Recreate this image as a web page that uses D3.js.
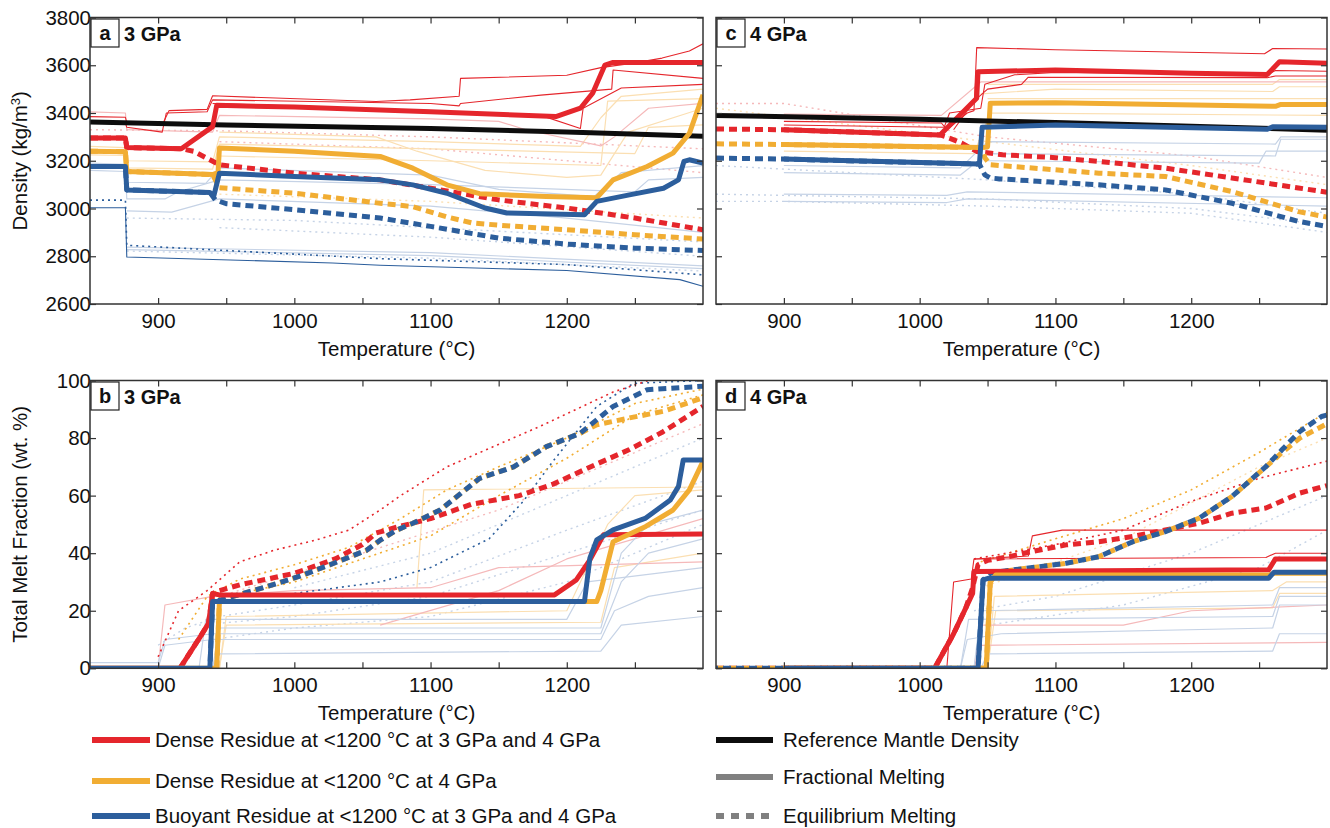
<!DOCTYPE html>
<html>
<head>
<meta charset="utf-8">
<script src="https://cdn.jsdelivr.net/npm/d3@7"></script>
<style>
  body { margin: 0; background: #fff; }
  svg text { font-family: "Liberation Sans", Arial, Helvetica, sans-serif; fill: #111; }
</style>
</head>
<body>
<svg id="chart" width="1330" height="828"></svg>
<script>
// ---------- data (temperature °C, value) ----------
const xTicks = [900, 1000, 1100, 1200]
const densityTicks = [2600, 2800, 3000, 3200, 3400, 3600, 3800]
const meltTicks = [0, 20, 40, 60, 80, 100]

// panel a : density, 3 GPa
const aBlack = [[850, 3362], [950, 3350], [1100, 3335], [1200, 3320], [1300, 3303]]
const aRedSolid = [[850, 3295], [876, 3295], [877, 3255], [917, 3250], [940, 3343], [943, 3432], [1000, 3425], [1100, 3405], [1192, 3385], [1210, 3420], [1219, 3483], [1228, 3601], [1234, 3612], [1300, 3612]]
const aOrangeSolid = [[850, 3240], [876, 3238], [877, 3155], [940, 3142], [944, 3150], [945, 3253], [1000, 3240], [1063, 3218], [1087, 3169], [1112, 3099], [1136, 3062], [1185, 3050], [1222, 3045], [1234, 3120], [1259, 3176], [1278, 3232], [1290, 3315], [1300, 3476]]
const aBlueSolid = [[850, 3176], [876, 3176], [877, 3078], [938, 3067], [941, 3055], [945, 3148], [1000, 3134], [1063, 3120], [1087, 3099], [1112, 3064], [1140, 3002], [1156, 2981], [1213, 2974], [1222, 3030], [1246, 3057], [1271, 3085], [1282, 3120], [1286, 3197], [1290, 3204], [1300, 3190]]
const aRedDash = [[850, 3295], [876, 3295], [877, 3255], [917, 3250], [926, 3240], [938, 3204], [945, 3183], [1000, 3148], [1063, 3120], [1100, 3085], [1150, 3036], [1200, 3002], [1250, 2960], [1300, 2911]]
const aOrangeDash = [[850, 3240], [876, 3238], [877, 3155], [940, 3142], [945, 3087], [1000, 3064], [1063, 3022], [1087, 3008], [1112, 2965], [1130, 2940], [1150, 2930], [1200, 2911], [1250, 2890], [1300, 2872]]
const aBlueDash = [[850, 3176], [876, 3176], [877, 3078], [938, 3067], [942, 3036], [950, 3020], [1000, 2995], [1063, 2960], [1100, 2925], [1150, 2876], [1200, 2851], [1250, 2834], [1300, 2824]]
const aThinRed1 = [[850, 3385], [876, 3382], [877, 3360], [903, 3350], [908, 3410], [936, 3415], [940, 3472], [1060, 3448], [1085, 3455], [1121, 3470], [1122, 3545], [1200, 3558], [1225, 3590], [1250, 3610], [1270, 3630], [1290, 3660], [1300, 3690]]
const aThinRed2 = [[850, 3360], [876, 3358], [877, 3340], [903, 3320], [906, 3400], [936, 3405], [940, 3455], [1100, 3440], [1121, 3430], [1122, 3440], [1181, 3475], [1233, 3500], [1234, 3580], [1300, 3545]]
const aThinRed3 = [[940, 3440], [1100, 3410], [1181, 3390], [1210, 3335], [1212, 3420], [1240, 3505], [1300, 3520]]
const aThinBlue = [[850, 3003], [876, 3003], [877, 2797], [1028, 2772], [1063, 2762], [1200, 2740], [1283, 2702], [1300, 2674]]
const aThinBlueDot = [[850, 3035], [876, 3035], [877, 2846], [1063, 2790], [1200, 2765], [1300, 2722]]
const aFaintRed1 = [[850, 3405], [876, 3400], [877, 3330], [940, 3320], [945, 3390], [1100, 3375], [1150, 3365], [1170, 3330], [1225, 3262], [1235, 3300], [1260, 3420], [1300, 3440]]
const aFaintOrange1 = [[850, 3260], [876, 3255], [877, 3200], [940, 3195], [945, 3300], [1100, 3280], [1210, 3260], [1225, 3380], [1240, 3470], [1300, 3500]]
const aFaintOrange2 = [[945, 3320], [1060, 3300], [1090, 3240], [1140, 3160], [1200, 3130], [1225, 3140], [1245, 3320], [1300, 3420]]
const aFaintOrange3 = [[945, 3220], [1100, 3200], [1225, 3180], [1230, 3450], [1300, 3460]]
const aFaintOrange4 = [[850, 3225], [876, 3222], [877, 3170], [940, 3165], [945, 3270], [1100, 3250], [1250, 3230], [1260, 3340], [1300, 3350]]
const aFaintBlue1 = [[850, 3190], [876, 3185], [877, 3110], [935, 3105], [945, 3170], [1100, 3140], [1150, 3080], [1220, 3050], [1240, 3150], [1300, 3180]]
const aFaintBlue2 = [[850, 3160], [876, 3155], [877, 3040], [905, 3040], [915, 3070], [945, 3120], [1100, 3100], [1250, 3070], [1260, 3120], [1300, 3130]]
const aFaintBlue3 = [[877, 2990], [910, 2985], [945, 3040], [1100, 3010], [1200, 2960], [1300, 2900]]
const aFaintBlue4 = [[877, 2838], [1100, 2815], [1300, 2760]]
const aFaintBlue5 = [[877, 2828], [1100, 2803], [1300, 2748]]
const aFaintDotRed1 = [[850, 3330], [950, 3325], [1100, 3300], [1300, 3250]]
const aFaintDotRed2 = [[945, 3280], [1100, 3250], [1300, 3150]]
const aFaintDotOrange = [[945, 3060], [1100, 3030], [1300, 2960]]
const aFaintDotBlue1 = [[877, 2960], [1000, 2950], [1100, 2920], [1300, 2860]]
const aFaintDotBlue2 = [[945, 2920], [1100, 2880], [1300, 2800]]
const aFaintDotBlue3 = [[877, 2822], [1100, 2792], [1300, 2738]]

// panel c : density, 4 GPa
const cBlack = [[850, 3390], [1000, 3374], [1100, 3360], [1200, 3345], [1300, 3328]]
const cRedSolid = [[900, 3330], [1015, 3308], [1042, 3462], [1043, 3573], [1100, 3580], [1200, 3566], [1256, 3561], [1265, 3615], [1300, 3608]]
const cRedDash = [[850, 3333], [900, 3330], [1015, 3308], [1019, 3301], [1031, 3274], [1042, 3239], [1061, 3225], [1100, 3213], [1132, 3197], [1181, 3169], [1230, 3128], [1279, 3086], [1300, 3068]]
const cOrangeSolid = [[900, 3268], [1046, 3255], [1050, 3258], [1052, 3441], [1100, 3443], [1262, 3428], [1266, 3436], [1300, 3436]]
const cOrangeDash = [[850, 3271], [900, 3268], [1046, 3255], [1048, 3213], [1052, 3183], [1059, 3180], [1132, 3148], [1181, 3134], [1230, 3071], [1279, 2987], [1300, 2964]]
const cBlueSolid = [[900, 3207], [1044, 3186], [1046, 3340], [1100, 3350], [1256, 3332], [1260, 3342], [1300, 3340]]
const cBlueDash = [[850, 3211], [900, 3207], [1044, 3186], [1048, 3141], [1052, 3128], [1059, 3124], [1132, 3099], [1181, 3078], [1230, 3022], [1279, 2946], [1300, 2925]]
const cThinRed1 = [[900, 3365], [1016, 3358], [1020, 3330], [1035, 3400], [1040, 3410], [1042, 3674], [1100, 3665], [1254, 3648], [1260, 3670], [1300, 3668]]
const cThinRed2 = [[900, 3350], [1018, 3340], [1022, 3400], [1045, 3420], [1048, 3520], [1070, 3560], [1100, 3570], [1256, 3560], [1262, 3578], [1300, 3575]]
const cThinRed3 = [[1025, 3330], [1040, 3450], [1050, 3500], [1075, 3520], [1080, 3550], [1256, 3548], [1262, 3555], [1300, 3555]]
const cFaintRed1 = [[900, 3395], [1016, 3390], [1045, 3530], [1300, 3530]]
const cFaintOrange1 = [[1045, 3480], [1100, 3500], [1260, 3490], [1265, 3510], [1300, 3510]]
const cFaintOrange2 = [[1050, 3520], [1260, 3520], [1265, 3540], [1300, 3540]]
const cFaintOrange3 = [[1050, 3460], [1300, 3460]]
const cFaintOrange4 = [[900, 3240], [1040, 3230], [1052, 3400], [1300, 3390]]
const cFaintBlue1 = [[900, 3060], [1020, 3055], [1035, 3070], [1300, 3045]]
const cFaintBlue2 = [[900, 3030], [1020, 3025], [1035, 3040], [1300, 3010]]
const cFaintBlue3 = [[900, 3180], [1030, 3170], [1050, 3280], [1262, 3270], [1266, 3300], [1300, 3300]]
const cFaintBlue4 = [[900, 3150], [1030, 3140], [1050, 3230], [1262, 3220], [1266, 3290], [1300, 3290]]
const cFaintBlue5 = [[1050, 3200], [1250, 3190], [1255, 3240], [1300, 3240]]
const cFaintDotBlue1 = [[850, 3030], [900, 3030], [1050, 3010], [1200, 2980], [1300, 2900]]
const cFaintDotBlue2 = [[850, 3060], [1050, 3040], [1200, 3000], [1300, 2930]]
const cFaintDotBlue3 = [[850, 3180], [1050, 3120], [1200, 3060], [1300, 2980]]
const cFaintDotRed = [[850, 3440], [900, 3440], [1050, 3300], [1200, 3220], [1300, 3130]]
const cFaintDotOrange = [[850, 3420], [1050, 3280], [1200, 3180], [1300, 3100]]

// panel b : melt fraction, 3 GPa
const bRedSolid = [[850, 0], [916, 0], [931, 11], [937, 15.6], [940, 26], [945, 25.5], [1191, 25.5], [1207, 30.7], [1217, 37.7], [1227, 46.4], [1300, 46.7]]
const bOrangeSolid = [[850, 0], [943, 0], [945, 23.2], [1222, 23.2], [1225, 27], [1234, 44], [1258, 49.3], [1278, 55], [1290, 62], [1300, 71.9]]
const bBlueSolid = [[850, 0], [938, 0], [940, 23.2], [1213, 23.2], [1217, 38.4], [1222, 44.6], [1234, 48.1], [1258, 52.2], [1276, 58.5], [1282, 63.2], [1285.5, 72.4], [1300, 72.4]]
const bRedDash = [[916, 0], [931, 11], [937, 15.6], [940, 26], [945, 27], [960, 29], [1000, 33], [1030, 38], [1050, 43], [1060, 47], [1075, 49], [1100, 52], [1130, 57], [1165, 60], [1190, 64], [1222, 71], [1246, 76], [1270, 82], [1300, 91]]
const bOrangeDash = [[943, 0], [945, 23], [955, 25], [980, 28.4], [1004, 32], [1029, 36.5], [1053, 41], [1063, 44.5], [1075, 48], [1087, 50.4], [1107, 55], [1136, 66], [1161, 70], [1185, 77], [1210, 81.7], [1222, 84.6], [1246, 87], [1271, 89.3], [1300, 94]]
const bBlueDash = [[938, 0], [940, 23], [955, 25], [980, 28.4], [1004, 32], [1029, 36.5], [1053, 41], [1063, 44.5], [1075, 48], [1087, 50.4], [1107, 55], [1136, 66], [1161, 70], [1185, 77], [1210, 81.7], [1234, 91], [1259, 96.8], [1300, 98]]
const bDotRed = [[900, 4], [915, 20], [936, 27], [960, 37], [985, 41], [1016, 44.6], [1040, 48], [1063, 55], [1078, 60], [1112, 70], [1180, 84], [1234, 96], [1260, 100]]
const bDotOrange1 = [[915, 10], [936, 25], [960, 31], [1000, 36], [1040, 42], [1078, 52], [1112, 62], [1150, 70], [1200, 80], [1250, 92], [1300, 97]]
const bDotOrange2 = [[940, 24], [1000, 30], [1050, 38], [1100, 46], [1150, 60], [1200, 73], [1250, 88], [1300, 95]]
const bDotSteep = [[1000, 26], [1063, 30], [1100, 35], [1143, 45], [1168, 58], [1190, 72], [1222, 91], [1249, 99], [1300, 100]]
const bDotBlue = [[900, 8], [920, 14], [945, 18], [1000, 22], [1100, 30], [1200, 48], [1300, 65]]
const bFaintBlue1 = [[850, 2], [900, 2], [905, 10], [940, 12], [1225, 12], [1240, 30], [1260, 40], [1300, 45]]
const bFaintBlue2 = [[900, 0], [905, 8], [940, 10], [1225, 10], [1235, 20], [1260, 25], [1300, 28]]
const bFaintBlue3 = [[940, 0], [945, 5], [1225, 6], [1240, 15], [1300, 18]]
const bFaintBlue4 = [[940, 0], [945, 14], [1225, 14], [1240, 40], [1260, 50], [1300, 55]]
const bFaintBlue5 = [[930, 0], [935, 17], [1200, 17], [1215, 30], [1300, 35]]
const bFaintOrange1 = [[945, 0], [950, 18], [1200, 20], [1230, 50], [1250, 60], [1300, 62]]
const bFaintOrange2 = [[1090, 28], [1095, 62], [1300, 63]]
const bFaintOrange3 = [[945, 0], [950, 15], [1225, 16], [1235, 35], [1300, 40]]
const bFaintRed1 = [[1063, 15], [1150, 27], [1200, 38], [1300, 52]]
const bFaintRed2 = [[900, 0], [905, 22], [940, 25], [1000, 27], [1100, 28], [1150, 35], [1300, 37]]
const bFaintDot1 = [[930, 15], [1000, 18], [1100, 25], [1200, 40], [1300, 55]]
const bFaintDot2 = [[940, 10], [1000, 14], [1100, 18], [1200, 30], [1300, 50]]
const bFaintDot3 = [[1000, 28], [1100, 40], [1200, 60], [1300, 80]]
const bFaintDotRed = [[945, 25], [1050, 40], [1150, 55], [1250, 75], [1300, 85]]

// panel d : melt fraction, 4 GPa
const dRedSolid = [[900, 0], [1011, 0], [1025, 12], [1034, 21], [1039, 26], [1040, 33.6], [1257, 34.2], [1262, 38], [1300, 38]]
const dOrangeSolid = [[900, 0], [1049, 0], [1052, 30], [1056, 32.4], [1257, 32.4], [1261, 33], [1300, 33]]
const dBlueSolid = [[900, 0], [1043, 0], [1046.7, 30.7], [1051, 31.3], [1257, 31.3], [1261, 33.4], [1300, 33.4]]
const dRedDash = [[850, 0], [1011, 0], [1025, 12], [1034, 21], [1039, 28], [1043, 36], [1050, 37.5], [1066, 38.8], [1083, 40.6], [1108, 42.9], [1132, 44], [1157, 45.8], [1181, 48.1], [1206, 50.4], [1230, 53.9], [1255, 55.7], [1280, 60.9], [1300, 63.5]]
const dOrangeDash = [[850, 0], [1049, 0], [1052, 30], [1056, 33], [1059, 33.6], [1108, 36.5], [1132, 38.8], [1157, 44], [1181, 47.5], [1206, 52.2], [1230, 59.7], [1255, 70], [1267, 75], [1280, 80], [1300, 85]]
const dBlueDash = [[850, 0], [1043, 0], [1046.7, 30.7], [1052, 33], [1059, 33.6], [1108, 36.5], [1132, 38.8], [1157, 44], [1181, 47.5], [1206, 52.2], [1230, 59.7], [1255, 70.1], [1267, 76], [1280, 82.3], [1296, 87.5], [1300, 88]]
const dThinRed1 = [[1020, 0], [1025, 30], [1038, 31], [1040, 38], [1080, 39], [1083, 46], [1105, 48], [1300, 48]]
const dThinRed2 = [[1040, 38], [1255, 38.5], [1262, 40], [1300, 40]]
const dDotOrange = [[1045, 37], [1100, 45], [1150, 52], [1200, 62], [1250, 75], [1300, 89]]
const dDotRed = [[1040, 38], [1100, 43], [1150, 48], [1200, 58], [1250, 66], [1300, 72]]
const dFaintBlue1 = [[1030, 0], [1035, 10], [1060, 12], [1260, 14], [1265, 22], [1300, 22]]
const dFaintBlue2 = [[1040, 0], [1045, 20], [1260, 22], [1265, 28], [1300, 28]]
const dFaintBlue3 = [[1045, 0], [1050, 5], [1260, 6], [1265, 12], [1300, 12]]
const dFaintBlue4 = [[1030, 0], [1036, 17], [1260, 18], [1265, 25], [1300, 25]]
const dFaintOrange1 = [[1050, 0], [1055, 25], [1260, 27], [1270, 30], [1300, 30]]
const dFaintOrange2 = [[1050, 0], [1056, 20], [1260, 21], [1265, 26], [1300, 26]]
const dFaintRed1 = [[1040, 0], [1045, 15], [1150, 15], [1200, 20], [1300, 22]]
const dFaintRed2 = [[1040, 0], [1045, 8], [1300, 9]]
const dFaintDot1 = [[1040, 20], [1100, 25], [1200, 40], [1300, 60]]
const dFaintDot2 = [[1050, 15], [1150, 22], [1250, 35], [1300, 48]]
const dFaintDot3 = [[1045, 28], [1150, 45], [1250, 70], [1300, 80]]

const legendLeft = ['Dense Residue at <1200 °C at 3 GPa and 4 GPa', 'Dense Residue at <1200 °C at 4 GPa', 'Buoyant Residue at <1200 °C at 3 GPa and 4 GPa']
const legendRight = ['Reference Mantle Density', 'Fractional Melting', 'Equilibrium Melting']

// ---------- styles ----------
const FONT = 20.5
const col = {
  red: '#e5262c', orange: '#f1ad33', blue: '#2c5e9c', black: '#0d0d0d',
  lred: '#f5b9ba', lorange: '#fbdfb2', lblue: '#c6d3e6', gray: '#808080'
}
const styles = {
  faint: { w: 1.2, dash: null },
  faintDot: { w: 1.4, dash: '2,4' },
  dot: { w: 1.6, dash: '2,4' },
  thin: { w: 1.1, dash: null },
  dash: { w: 5, dash: '8,5' },
  dashAlt: { w: 5, dash: '8,5', offset: 6 },
  solid: { w: 5, dash: null }
}

const svg = d3.select('#chart')

/**
 * Draws one panel: frame, ticks, labels and all its lines.
 */
function drawPanel (p) {
  const x = d3.scaleLinear().domain([850, 1300]).range([p.x0, p.x1])
  const y = d3.scaleLinear().domain(p.yDomain).range([p.y1, p.y0])
  const g = svg.append('g')

  const clipId = 'clip-' + p.id
  svg.append('clipPath').attr('id', clipId)
    .append('rect')
    .attr('x', p.x0).attr('y', p.y0)
    .attr('width', p.x1 - p.x0).attr('height', p.y1 - p.y0)

  const line = d3.line().x(d => x(d[0])).y(d => y(d[1]))
  const lines = g.append('g').attr('clip-path', `url(#${clipId})`)

  lines.selectAll('path')
    .data(p.series)
    .join('path')
    .attr('d', d => line(d.pts))
    .attr('fill', 'none')
    .attr('stroke', d => col[d.c])
    .attr('stroke-width', d => styles[d.s].w)
    .attr('stroke-dasharray', d => styles[d.s].dash)
    .attr('stroke-dashoffset', d => styles[d.s].offset || 0)
    .attr('stroke-linejoin', 'round')

  // axes with inward ticks
  const bottom = g.append('g').attr('transform', `translate(0,${p.y1})`)
    .call(d3.axisBottom(x).tickValues(d3.range(900, 1300, 50)).tickSize(-6).tickPadding(9)
      .tickFormat(d => xTicks.includes(d) ? d : ''))
  const top = g.append('g').attr('transform', `translate(0,${p.y0})`)
    .call(d3.axisTop(x).tickValues(d3.range(900, 1300, 50)).tickSize(-6).tickFormat(''))
  const left = g.append('g').attr('transform', `translate(${p.x0},0)`)
    .call(d3.axisLeft(y).tickValues(p.yTicks).tickSize(-6).tickPadding(5)
      .tickFormat(p.yLabels ? d => d : ''))
  const right = g.append('g').attr('transform', `translate(${p.x1},0)`)
    .call(d3.axisRight(y).tickValues(p.yTicks).tickSize(-6).tickFormat(''))

  ;[bottom, top, left, right].forEach(a => {
    a.select('.domain').remove()
    a.selectAll('line').attr('stroke', '#333').attr('stroke-width', 1.2)
    a.selectAll('text').attr('font-size', FONT).attr('fill', '#111')
  })
  left.selectAll('text').attr('dx', 6)

  g.append('rect')
    .attr('x', p.x0).attr('y', p.y0)
    .attr('width', p.x1 - p.x0).attr('height', p.y1 - p.y0)
    .attr('fill', 'none').attr('stroke', '#333').attr('stroke-width', 1.5)

  // panel letter and pressure
  g.append('rect')
    .attr('x', p.x0 + 1).attr('y', p.y0 + 1.5)
    .attr('width', 28).attr('height', 28)
    .attr('fill', '#fff').attr('stroke', '#222').attr('stroke-width', 1.2)
  g.append('text')
    .attr('x', p.x0 + 15).attr('y', p.y0 + 22)
    .attr('text-anchor', 'middle')
    .attr('font-size', 20).attr('font-weight', 'bold')
    .text(p.letter)
  g.append('text')
    .attr('x', p.x0 + 34).attr('y', p.y0 + 23)
    .attr('font-size', 20).attr('font-weight', 'bold')
    .text(p.gpa)

  g.append('text')
    .attr('x', (p.x0 + p.x1) / 2).attr('y', p.y1 + 52)
    .attr('text-anchor', 'middle').attr('font-size', FONT)
    .text('Temperature (°C)')

  if (p.yTitle) {
    g.append('text')
      .attr('transform', `translate(27,${(p.y0 + p.y1) / 2}) rotate(-90)`)
      .attr('text-anchor', 'middle').attr('font-size', FONT)
      .text(p.yTitle)
  }
}

const S = (pts, c, s) => ({ pts, c, s })

drawPanel({
  id: 'a', letter: 'a', gpa: '3 GPa', x0: 90, x1: 703, y0: 17.5, y1: 304,
  yDomain: [2600, 3800], yTicks: densityTicks, yLabels: true,
  yTitle: null,
  series: [
    S(aFaintDotRed1, 'lred', 'faintDot'), S(aFaintDotRed2, 'lred', 'faintDot'),
    S(aFaintDotOrange, 'lorange', 'faintDot'), S(aFaintDotBlue1, 'lblue', 'faintDot'),
    S(aFaintDotBlue2, 'lblue', 'faintDot'), S(aFaintDotBlue3, 'lblue', 'faintDot'),
    S(aFaintOrange1, 'lorange', 'faint'), S(aFaintOrange2, 'lorange', 'faint'),
    S(aFaintOrange3, 'lorange', 'faint'), S(aFaintOrange4, 'lorange', 'faint'),
    S(aFaintRed1, 'lred', 'faint'),
    S(aFaintBlue1, 'lblue', 'faint'), S(aFaintBlue2, 'lblue', 'faint'),
    S(aFaintBlue3, 'lblue', 'faint'), S(aFaintBlue4, 'lblue', 'faint'), S(aFaintBlue5, 'lblue', 'faint'),
    S(aThinBlueDot, 'blue', 'dot'), S(aThinBlue, 'blue', 'thin'),
    S(aThinRed1, 'red', 'thin'), S(aThinRed2, 'red', 'thin'), S(aThinRed3, 'red', 'thin'),
    S(aRedDash, 'red', 'dash'), S(aOrangeDash, 'orange', 'dash'), S(aBlueDash, 'blue', 'dash'),
    S(aBlack, 'black', 'solid'),
    S(aRedSolid, 'red', 'solid'), S(aOrangeSolid, 'orange', 'solid'), S(aBlueSolid, 'blue', 'solid')
  ]
})

drawPanel({
  id: 'c', letter: 'c', gpa: '4 GPa', x0: 716, x1: 1327, y0: 17.5, y1: 304,
  yDomain: [2600, 3800], yTicks: densityTicks, yLabels: false,
  yTitle: null,
  series: [
    S(cFaintDotBlue1, 'lblue', 'faintDot'), S(cFaintDotBlue2, 'lblue', 'faintDot'),
    S(cFaintDotBlue3, 'lblue', 'faintDot'), S(cFaintDotRed, 'lred', 'faintDot'),
    S(cFaintDotOrange, 'lorange', 'faintDot'),
    S(cFaintOrange1, 'lorange', 'faint'), S(cFaintOrange2, 'lorange', 'faint'),
    S(cFaintOrange3, 'lorange', 'faint'), S(cFaintOrange4, 'lorange', 'faint'),
    S(cFaintRed1, 'lred', 'faint'),
    S(cFaintBlue1, 'lblue', 'faint'), S(cFaintBlue2, 'lblue', 'faint'), S(cFaintBlue3, 'lblue', 'faint'),
    S(cFaintBlue4, 'lblue', 'faint'), S(cFaintBlue5, 'lblue', 'faint'),
    S(cThinRed1, 'red', 'thin'), S(cThinRed2, 'red', 'thin'), S(cThinRed3, 'red', 'thin'),
    S(cRedDash, 'red', 'dash'), S(cOrangeDash, 'orange', 'dash'), S(cBlueDash, 'blue', 'dash'),
    S(cRedSolid, 'red', 'solid'), S(cOrangeSolid, 'orange', 'solid'),
    S(cBlack, 'black', 'solid'), S(cBlueSolid, 'blue', 'solid')
  ]
})

drawPanel({
  id: 'b', letter: 'b', gpa: '3 GPa', x0: 90, x1: 703, y0: 380.5, y1: 668.3,
  yDomain: [0, 100], yTicks: meltTicks, yLabels: true,
  yTitle: 'Total Melt Fraction (wt. %)',
  series: [
    S(bFaintDot1, 'lblue', 'faintDot'), S(bFaintDot2, 'lblue', 'faintDot'),
    S(bFaintDot3, 'lblue', 'faintDot'), S(bFaintDotRed, 'lred', 'faintDot'),
    S(bDotBlue, 'lblue', 'faintDot'),
    S(bFaintOrange1, 'lorange', 'faint'), S(bFaintOrange2, 'lorange', 'faint'), S(bFaintOrange3, 'lorange', 'faint'),
    S(bFaintRed1, 'lred', 'faint'), S(bFaintRed2, 'lred', 'faint'),
    S(bFaintBlue1, 'lblue', 'faint'), S(bFaintBlue2, 'lblue', 'faint'), S(bFaintBlue3, 'lblue', 'faint'),
    S(bFaintBlue4, 'lblue', 'faint'), S(bFaintBlue5, 'lblue', 'faint'),
    S(bDotSteep, 'blue', 'dot'),
    S(bDotOrange1, 'orange', 'dot'), S(bDotOrange2, 'orange', 'dot'), S(bDotRed, 'red', 'dot'),
    S(bRedDash, 'red', 'dash'), S(bOrangeDash, 'orange', 'dash'), S(bBlueDash, 'blue', 'dashAlt'),
    S(bRedSolid, 'red', 'solid'), S(bOrangeSolid, 'orange', 'solid'), S(bBlueSolid, 'blue', 'solid')
  ]
})

drawPanel({
  id: 'd', letter: 'd', gpa: '4 GPa', x0: 716, x1: 1327, y0: 380.5, y1: 668.3,
  yDomain: [0, 100], yTicks: meltTicks, yLabels: false,
  yTitle: null,
  series: [
    S(dFaintDot1, 'lblue', 'faintDot'), S(dFaintDot2, 'lblue', 'faintDot'), S(dFaintDot3, 'lorange', 'faintDot'),
    S(dFaintOrange1, 'lorange', 'faint'), S(dFaintOrange2, 'lorange', 'faint'),
    S(dFaintRed1, 'lred', 'faint'), S(dFaintRed2, 'lred', 'faint'),
    S(dFaintBlue1, 'lblue', 'faint'), S(dFaintBlue2, 'lblue', 'faint'),
    S(dFaintBlue3, 'lblue', 'faint'), S(dFaintBlue4, 'lblue', 'faint'),
    S(dDotOrange, 'orange', 'dot'), S(dDotRed, 'red', 'dot'),
    S(dThinRed1, 'red', 'thin'), S(dThinRed2, 'red', 'thin'),
    S(dRedDash, 'red', 'dash'), S(dOrangeDash, 'orange', 'dash'), S(dBlueDash, 'blue', 'dashAlt'),
    S(dRedSolid, 'red', 'solid'), S(dOrangeSolid, 'orange', 'solid'), S(dBlueSolid, 'blue', 'solid')
  ]
})

// density axis title (panel a)
svg.append('text')
  .attr('transform', `translate(27,${(17.5 + 304) / 2}) rotate(-90)`)
  .attr('text-anchor', 'middle').attr('font-size', FONT)
  .html('Density (kg/m<tspan dy="-7" font-size="13">3</tspan><tspan dy="7">)</tspan>')

// ---------- legend ----------
const legY = [740, 781, 816]
const legL = svg.append('g')
legL.selectAll('line')
  .data(legendLeft)
  .join('line')
  .attr('x1', 92).attr('x2', 150)
  .attr('y1', (d, i) => legY[i]).attr('y2', (d, i) => legY[i])
  .attr('stroke', (d, i) => [col.red, col.orange, col.blue][i])
  .attr('stroke-width', 6)
legL.selectAll('text')
  .data(legendLeft)
  .join('text')
  .attr('x', 155).attr('y', (d, i) => legY[i] + 7)
  .attr('font-size', FONT)
  .text(d => d)

const legRY = [740, 777, 816]
const legR = svg.append('g')
legR.selectAll('line')
  .data(legendRight)
  .join('line')
  .attr('x1', 716).attr('x2', 773)
  .attr('y1', (d, i) => legRY[i]).attr('y2', (d, i) => legRY[i])
  .attr('stroke', (d, i) => i === 0 ? col.black : col.gray)
  .attr('stroke-width', 6)
  .attr('stroke-dasharray', (d, i) => i === 2 ? '8,7' : null)
legR.selectAll('text')
  .data(legendRight)
  .join('text')
  .attr('x', 783).attr('y', (d, i) => legRY[i] + 7)
  .attr('font-size', FONT)
  .text(d => d)
</script>
</body>
</html>
